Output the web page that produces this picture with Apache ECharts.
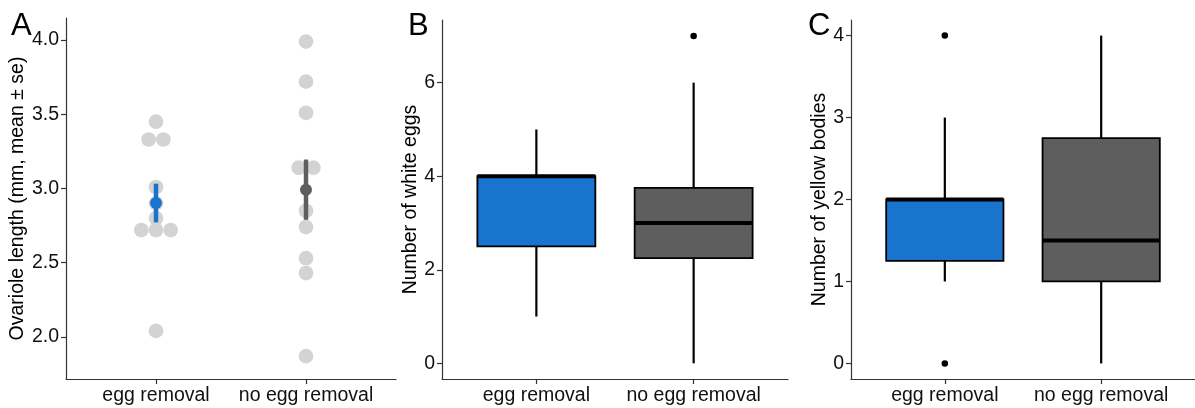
<!DOCTYPE html>
<html>
<head>
<meta charset="utf-8">
<script src="https://cdn.jsdelivr.net/npm/echarts@6/dist/echarts.min.js"></script>
<style>html,body{margin:0;padding:0;background:#fff;}#c{width:1195px;height:408px;}</style>
</head>
<body>
<div id="c"></div>
<script>
// ---- data ----
const categories = ['egg removal', 'no egg removal'];
const eggRemovalLength = [3.45, 3.33, 3.33, 3.01, 2.90, 2.80, 2.72, 2.72, 2.72, 2.04];
const noEggRemovalLength = [3.99, 3.72, 3.51, 3.14, 3.14, 2.85, 2.74, 2.53, 2.43, 1.87];
// boxplot stats: [lower whisker, Q1, median, Q3, upper whisker]
const whiteEggsBox = [[1, 2.5, 4, 4, 5], [0, 2.25, 3, 3.75, 6]];
const whiteEggsOutliers = [[], [7]];
const yellowBodiesBox = [[1, 1.25, 2, 2, 3], [0, 1, 1.5, 2.75, 4]];
const yellowBodiesOutliers = [[4, 0], []];
const ticksA = [2.0, 2.5, 3.0, 3.5, 4.0];
const ticksB = [0, 2, 4, 6];
const ticksC = [0, 1, 2, 3, 4];
const groupColors = ['#1874CD', '#5E5E5E'];

const FONT = '"Liberation Sans", Arial, sans-serif';
const dotSize = 14.7;

function stats(arr) {
  const n = arr.length;
  const m = arr.reduce((a, b) => a + b, 0) / n;
  const v = arr.reduce((a, b) => a + (b - m) * (b - m), 0) / (n - 1);
  return [m, Math.sqrt(v / n)];
}
function swarm(arr, xi) {
  const counts = {}, idx = {};
  arr.forEach(v => { counts[v] = (counts[v] || 0) + 1; });
  return arr.map(v => {
    idx[v] = (idx[v] || 0);
    const k = idx[v]++;
    const off = (k - (counts[v] - 1) / 2) * dotSize;
    return { value: [xi, v], symbolOffset: [off, 0] };
  });
}

const axisLineStyle = { color: '#333', width: 1.2 };
function xAxis(gi) {
  return {
    type: 'value', gridIndex: gi, min: 0.4, max: 2.6,
    splitLine: { show: false },
    axisLine: { show: true, onZero: false, lineStyle: axisLineStyle },
    axisTick: { show: true, length: 5, customValues: [1, 2], lineStyle: axisLineStyle },
    axisLabel: { customValues: [1, 2], margin: 7, color: '#111', fontSize: 19.5, fontFamily: FONT,
      formatter: v => categories[Math.round(v) - 1] || '' }
  };
}
function yAxis(gi, min, max, ticks, name, gap, dec) {
  return {
    type: 'value', gridIndex: gi, min: min, max: max,
    name: name, nameLocation: 'middle', nameGap: gap,
    nameTextStyle: { color: '#000', fontSize: 19.5, fontFamily: FONT },
    splitLine: { show: false },
    axisLine: { show: true, onZero: false, lineStyle: axisLineStyle },
    axisTick: { show: true, length: 5, customValues: ticks, lineStyle: axisLineStyle },
    axisLabel: { customValues: ticks, margin: 7, color: '#111', fontSize: 19.5, fontFamily: FONT,
      formatter: v => v.toFixed(dec) }
  };
}

function boxRender(colorsArr) {
  return function (params, api) {
    const x = api.value(0);
    const lo = api.coord([x, api.value(1)]);
    const q1 = api.coord([x, api.value(2)]);
    const md = api.coord([x, api.value(3)]);
    const q3 = api.coord([x, api.value(4)]);
    const hi = api.coord([x, api.value(5)]);
    const half = api.size([0.75, 0])[0] / 2;
    const cx = lo[0];
    const ls = { stroke: '#000', lineWidth: 2.2 };
    return {
      type: 'group', children: [
        { type: 'line', shape: { x1: cx, y1: hi[1], x2: cx, y2: q3[1] }, style: ls },
        { type: 'line', shape: { x1: cx, y1: q1[1], x2: cx, y2: lo[1] }, style: ls },
        { type: 'rect', shape: { x: cx - half, y: q3[1], width: half * 2, height: q1[1] - q3[1] },
          style: { fill: colorsArr[params.dataIndex], stroke: '#000', lineWidth: 1.8 } },
        { type: 'line', shape: { x1: cx - half, y1: md[1], x2: cx + half, y2: md[1] },
          style: { stroke: '#000', lineWidth: 4 } }
      ]
    };
  };
}
function boxData(box) { return box.map((b, i) => [i + 1].concat(b)); }
function outlierData(out) {
  const d = [];
  out.forEach((arr, i) => arr.forEach(v => d.push([i + 1, v])));
  return d;
}

const sA = [stats(eggRemovalLength), stats(noEggRemovalLength)];

const option = {
  animation: false,
  backgroundColor: '#fff',
  title: [
    { text: 'A', left: 6, top: 6, textStyle: { fontSize: 31, fontWeight: 'normal', color: '#000', fontFamily: FONT } },
    { text: 'B', left: 403, top: 6, textStyle: { fontSize: 31, fontWeight: 'normal', color: '#000', fontFamily: FONT } },
    { text: 'C', left: 803, top: 6, textStyle: { fontSize: 31, fontWeight: 'normal', color: '#000', fontFamily: FONT } }
  ],
  grid: [
    { left: 66, top: 18, width: 330, height: 361 },
    { left: 442, top: 20, width: 346, height: 359 },
    { left: 851, top: 20, width: 344, height: 359 }
  ],
  xAxis: [xAxis(0), xAxis(1), xAxis(2)],
  yAxis: [
    yAxis(0, 1.716, 4.149, ticksA, 'Ovariole length (mm, mean \u00b1 se)', 35, 1),
    yAxis(1, -0.335, 7.34, ticksB, 'Number of white eggs', 20, 0),
    yAxis(2, -0.19, 4.19, ticksC, 'Number of yellow bodies', 21, 0)
  ],
  series: [
    { type: 'scatter', xAxisIndex: 0, yAxisIndex: 0, symbolSize: dotSize, itemStyle: { color: '#D3D3D3', opacity: 1 },
      data: swarm(eggRemovalLength, 1).concat(swarm(noEggRemovalLength, 2)), z: 2 },
    { type: 'custom', xAxisIndex: 0, yAxisIndex: 0, z: 3,
      data: sA.map((s, i) => [i + 1, s[0], s[1]]),
      renderItem: function (params, api) {
        const x = api.value(0), m = api.value(1), se = api.value(2);
        const a = api.coord([x, m + se]), b = api.coord([x, m - se]);
        return { type: 'line', shape: { x1: a[0], y1: a[1], x2: b[0], y2: b[1] },
          style: { stroke: groupColors[params.dataIndex], lineWidth: 4.5 } };
      } },
    { type: 'scatter', xAxisIndex: 0, yAxisIndex: 0, symbolSize: 12, z: 4,
      data: sA.map((s, i) => ({ value: [i + 1, s[0]], itemStyle: { color: groupColors[i], opacity: 1 } })) },
    { type: 'custom', xAxisIndex: 1, yAxisIndex: 1, data: boxData(whiteEggsBox), renderItem: boxRender(groupColors) },
    { type: 'scatter', xAxisIndex: 1, yAxisIndex: 1, symbolSize: 6.5, itemStyle: { color: '#000', opacity: 1 }, data: outlierData(whiteEggsOutliers) },
    { type: 'custom', xAxisIndex: 2, yAxisIndex: 2, data: boxData(yellowBodiesBox), renderItem: boxRender(groupColors) },
    { type: 'scatter', xAxisIndex: 2, yAxisIndex: 2, symbolSize: 6.5, itemStyle: { color: '#000', opacity: 1 }, data: outlierData(yellowBodiesOutliers) }
  ]
};
const chart = echarts.init(document.getElementById('c'), null, { renderer: 'canvas' });
chart.setOption(option);
</script>
</body>
</html>
